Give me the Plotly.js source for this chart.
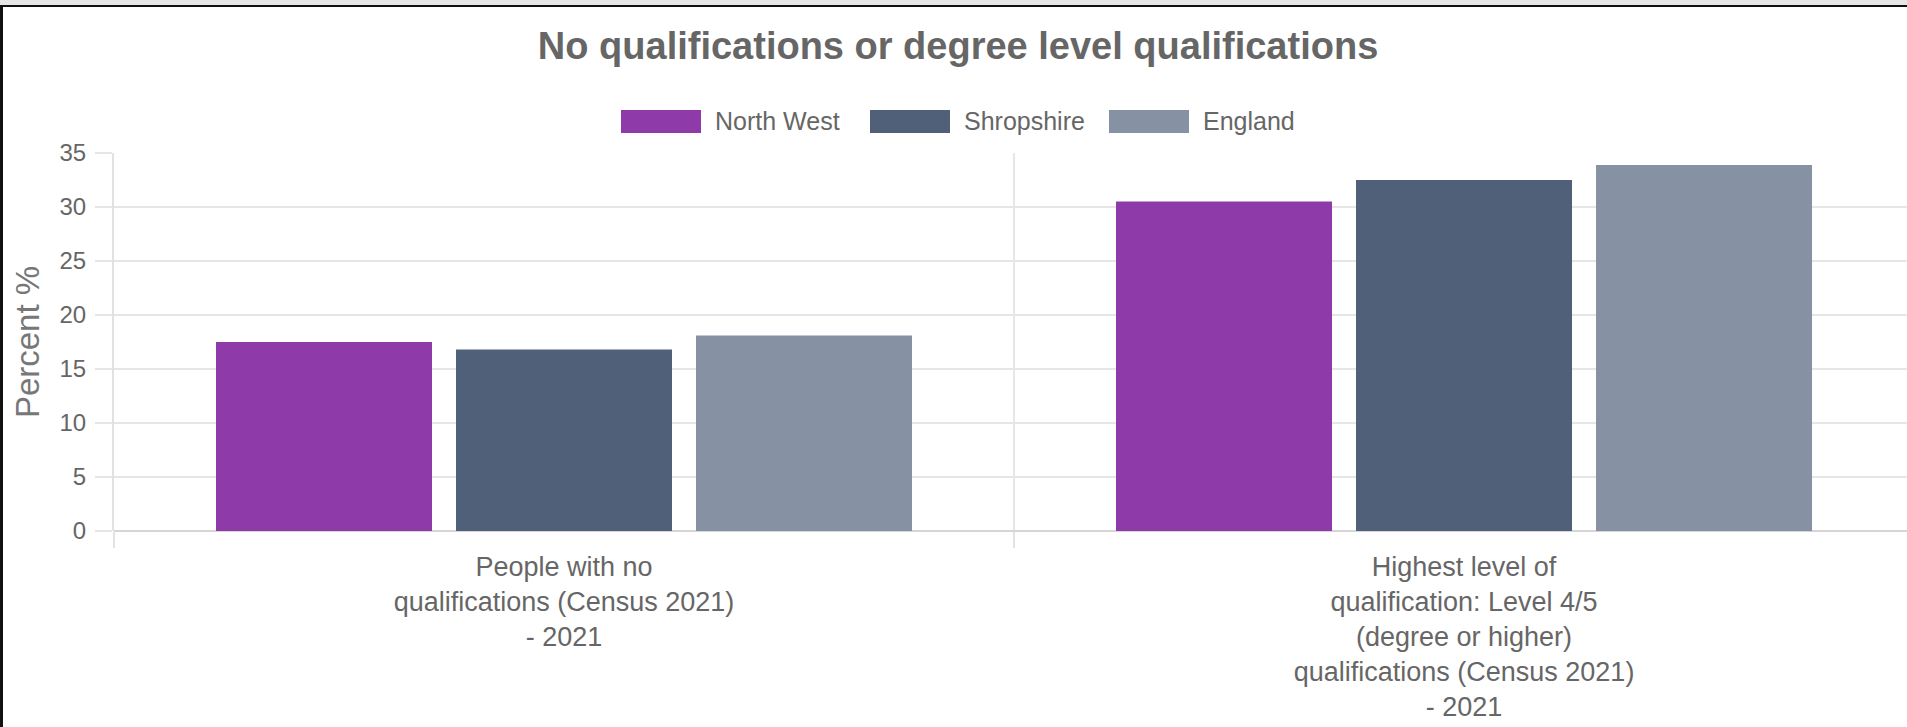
<!DOCTYPE html>
<html>
<head>
<meta charset="utf-8">
<script src="https://cdn.plot.ly/plotly-3.0.1.min.js"></script>
<style>
  body { margin: 0; background: #fff; }
  #chartDiv { position: absolute; top: 0; left: 0; width: 1907px; height: 727px; }
  #topBand { position: absolute; top: 0; left: 0; width: 1907px; height: 5px; background: #e6e6e6; border-bottom: 2px solid #111; }
  #leftEdge { position: absolute; top: 5px; left: 0; width: 3px; height: 722px; background: #111; }
</style>
</head>
<body>
<div id="chartDiv"></div>
<div id="topBand"></div>
<div id="leftEdge"></div>
<script>
const categories = [
  'People with no qualifications (Census 2021) - 2021',
  'Highest level of qualification: Level 4/5 (degree or higher) qualifications (Census 2021) - 2021'
];
const tickLabels = [
  'People with no<br>qualifications (Census 2021)<br>- 2021',
  'Highest level of<br>qualification: Level 4/5<br>(degree or higher)<br>qualifications (Census 2021)<br>- 2021'
];
const seriesNames = ['North West', 'Shropshire', 'England'];
const northWest = [17.5, 30.5];
const shropshire = [16.8, 32.5];
const england = [18.1, 33.9];
const colours = ['#8E3AA9', '#506079', '#8691A3'];

// page geometry (px) used for the hand drawn legend
const W = 1907, H = 727;
const M = { l: 114, r: 0, t: 153, b: 195.5 };
const legendBoxX = [621, 870, 1109];
const legendTop = 110, legendBottom = 133;

function paperX(px) { return (px - M.l) / (W - M.l - M.r); }
function paperY(py) { return (H - M.b - py) / (H - M.t - M.b); }

window.onload = function () {
  const font = 'Arial, "Liberation Sans", Helvetica, sans-serif';
  const values = [northWest, shropshire, england];

  const data = seriesNames.map(function (name, i) {
    return {
      x: categories,
      y: values[i],
      type: 'bar',
      name: name,
      marker: { color: colours[i] },
      hoverinfo: 'y+name'
    };
  });

  const shapes = [];
  const annotations = [];
  seriesNames.forEach(function (name, i) {
    shapes.push({
      type: 'rect', xref: 'paper', yref: 'paper',
      x0: paperX(legendBoxX[i]), x1: paperX(legendBoxX[i] + 80),
      y0: paperY(legendBottom), y1: paperY(legendTop),
      fillcolor: colours[i], line: { width: 0 }
    });
    annotations.push({
      xref: 'paper', yref: 'paper',
      x: paperX(legendBoxX[i] + 92), y: paperY((legendTop + legendBottom) / 2 - 1),
      xanchor: 'left', yanchor: 'middle', showarrow: false,
      text: name, font: { family: font, size: 25, color: '#666' }
    });
  });

  const layout = {
    width: W,
    height: H,
    margin: M,
    paper_bgcolor: '#fff',
    plot_bgcolor: '#fff',
    showlegend: false,
    bargap: 0.2,
    bargroupgap: 0.1,
    title: {
      text: '<b>No qualifications or degree level qualifications</b>',
      xref: 'container', x: 0.5024,
      yref: 'container', y: 0.955, yanchor: 'top',
      font: { family: font, size: 38, color: '#666' }
    },
    xaxis: {
      type: 'category',
      tickvals: categories,
      ticktext: tickLabels,
      range: [-0.5, 1.4922],
      tickson: 'boundaries',
      ticks: 'outside', ticklen: 16, tickwidth: 2, tickcolor: '#e2e2e2',
      showgrid: true, gridcolor: '#e6e6e6', gridwidth: 2,
      showline: false,
      tickfont: { family: font, size: 27, color: '#666' },
      ticklabelstandoff: 17,
      fixedrange: true
    },
    yaxis: {
      range: [0, 35],
      dtick: 5,
      ticks: 'outside', ticklen: 17, tickwidth: 2, tickcolor: '#e6e6e6',
      showgrid: true, gridcolor: '#e6e6e6', gridwidth: 2,
      zeroline: true, zerolinecolor: '#d6d6d6', zerolinewidth: 2,
      showline: true, linecolor: '#e2e2e2', linewidth: 2,
      tickfont: { family: font, size: 24, color: '#666' },
      ticklabelstandoff: 4,
      title: {
        text: 'Percent %',
        standoff: 10,
        font: { family: font, size: 33, color: '#777' }
      },
      fixedrange: true
    },
    shapes: shapes,
    annotations: annotations
  };

  Plotly.newPlot('chartDiv', data, layout, { displayModeBar: false });
};
</script>
</body>
</html>
